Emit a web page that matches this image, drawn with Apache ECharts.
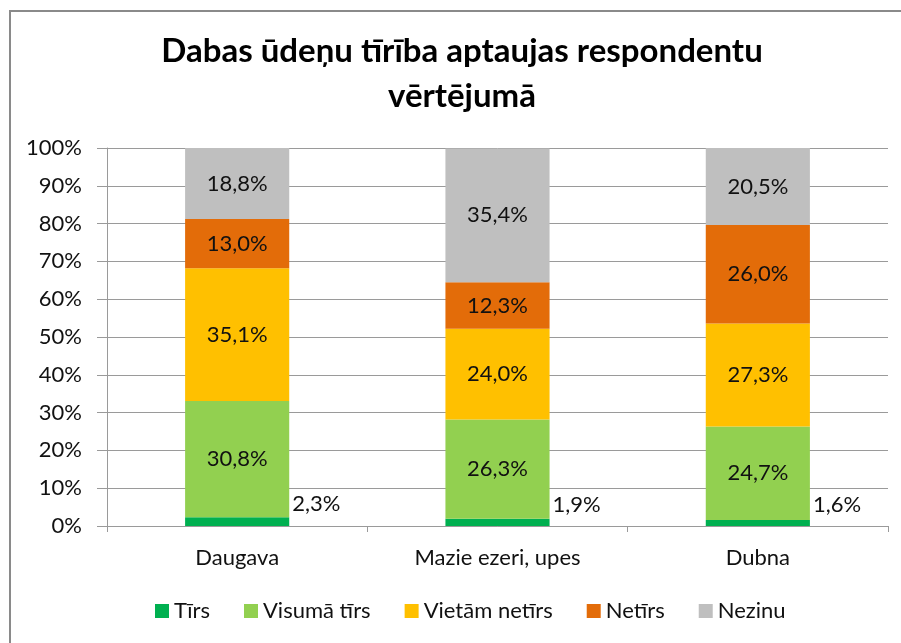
<!DOCTYPE html>
<html><head><meta charset="utf-8">
<script src="https://cdn.jsdelivr.net/npm/echarts@6/dist/echarts.min.js"></script>
<style>html,body{margin:0;padding:0;background:#fff}#c{width:901px;height:643px}</style>
</head><body><div id="c"></div>
<script>
var categories = ['Daugava', 'Mazie ezeri, upes', 'Dubna'];
var seriesNames = ['Tīrs', 'Visumā tīrs', 'Vietām netīrs', 'Netīrs', 'Nezinu'];
var tirs = [2.3, 1.9, 1.6];
var visumaTirs = [30.8, 26.3, 24.7];
var vietamNetirs = [35.1, 24.0, 27.3];
var netirs = [13.0, 12.3, 26.0];
var nezinu = [18.8, 35.4, 20.5];
var yTicks = [0, 10, 20, 30, 40, 50, 60, 70, 80, 90, 100];
var colors = ['#00B050', '#92D050', '#FFC000', '#E36C09', '#BFBFBF'];
var FONT = 'Lato, "Liberation Sans", sans-serif';
var values = [tirs, visumaTirs, vietamNetirs, netirs, nezinu];

var chart = echarts.init(document.getElementById('c'));
function fmt(v) { return v.toFixed(1).replace('.', ',') + '%'; }
var series = values.map(function (arr, i) {
  var s = {
    name: seriesNames[i], type: 'bar', stack: 'total', barWidth: '40%',
    data: arr, itemStyle: { color: colors[i] },
    label: {
      show: true, position: 'inside', color: '#111', fontFamily: FONT, fontSize: 22,
      formatter: function (p) { return fmt(p.value); }
    }
  };
  if (i === 0) {
    s.label.position = 'right';
    s.label.offset = [0, -18];
    s.label.distance = 3;
  }
  return s;
});
chart.setOption({
  animation: false,
  title: {
    text: 'Dabas ūdeņu tīrība aptaujas respondentu\nvērtējumā',
    left: 457, textAlign: 'center', top: 24,
    textStyle: { fontFamily: FONT, fontWeight: 'bold', fontSize: 33, lineHeight: 45, color: '#000' }
  },
  graphic: [{
    type: 'rect', shape: { x: 10, y: 11, width: 1000, height: 1000 },
    style: { fill: 'none', stroke: '#8a8a8a', lineWidth: 2 }, silent: true
  }],
  legend: {
    bottom: 16, left: 150, itemWidth: 14, itemHeight: 14, itemGap: 34,
    icon: 'rect', data: seriesNames,
    textStyle: { fontFamily: FONT, fontSize: 22, color: '#111' }
  },
  grid: { left: 107, right: 13, top: 148, bottom: 117, containLabel: false },
  xAxis: {
    type: 'category', data: categories,
    axisLine: { lineStyle: { color: '#9a9a9a', width: 1 } },
    axisTick: { show: true, length: 6, lineStyle: { color: '#9a9a9a' } },
    axisLabel: { fontFamily: FONT, fontSize: 22, color: '#111', margin: 21 }
  },
  yAxis: {
    type: 'value', min: 0, max: 100, interval: 10,
    axisLine: { show: true, lineStyle: { color: '#9a9a9a' } },
    axisTick: { show: true, length: 10, inside: false, lineStyle: { color: '#9a9a9a' } },
    splitLine: { lineStyle: { color: '#9a9a9a' } },
    axisLabel: {
      fontFamily: FONT, fontSize: 22, color: '#111', margin: 25,
      formatter: function (v) { return yTicks.indexOf(v) >= 0 ? v + '%' : ''; }
    }
  },
  series: series
});
</script></body></html>
